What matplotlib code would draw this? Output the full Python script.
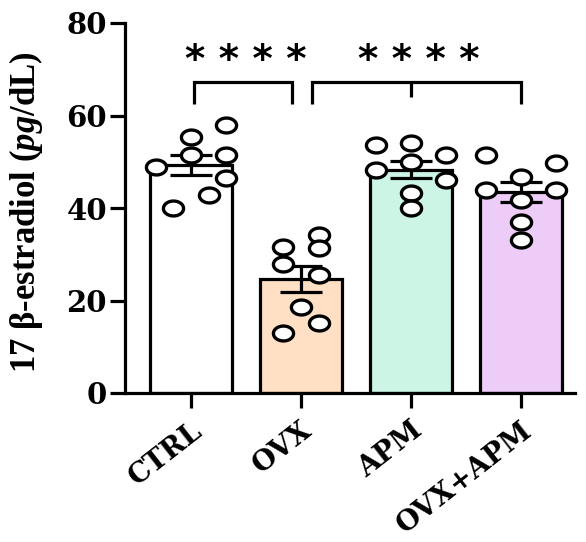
import numpy as np
import matplotlib
matplotlib.use('Agg')
import matplotlib.pyplot as plt
from matplotlib.path import Path
import matplotlib.transforms as mtransforms

# ---------------- data ----------------
groups = ['CTRL', 'OVX', 'APM', 'OVX+APM']
ctrl = [57.9, 55.4, 51.5, 51.5, 48.9, 46.4, 42.8, 39.9]
ovx = [34.2, 31.6, 31.3, 28.0, 25.5, 18.7, 15.1, 12.9]
apm = [54.0, 53.6, 51.5, 50.0, 48.2, 46.1, 43.2, 39.9]
ovx_apm = [51.5, 49.7, 46.8, 43.9, 43.9, 41.7, 37.0, 33.1]
yticks = [0, 20, 40, 60, 80]
stars = ['* * * *', '* * * *']

# scatter column (swarm slot) of each point
slots = [
    [2, 0, 0, 2, -2, 2, 1, -1],
    [1, -1, 1, -1, 1, 0, 1, -1],
    [0, -2, 2, 0, -2, 2, 0, 0],
    [-2, 2, 0, -2, 2, 0, 0, 0],
]

colors = ['#FFFFFF', '#FFE0C4', '#CCF5E6', '#EDCCF7']

# ---------------- style ----------------
plt.rcParams['font.family'] = ['Liberation Serif', 'DejaVu Serif']
plt.rcParams['font.weight'] = 'bold'
plt.rcParams['mathtext.fontset'] = 'custom'
plt.rcParams['mathtext.rm'] = 'Liberation Serif:bold'
plt.rcParams['mathtext.it'] = 'Liberation Serif:italic:bold'
plt.rcParams['mathtext.bf'] = 'Liberation Serif:bold'

LW = 2.3
TICKFONT = ['DejaVu Serif']

fig = plt.figure(figsize=(5.86, 5.42), dpi=100)
ax = fig.add_axes([125 / 586, 1 - 393 / 542, 450 / 586, 370 / 542])

data = [ctrl, ovx, apm, ovx_apm]
x = np.arange(len(groups))
means = np.array([np.mean(d) for d in data])
sems = np.array([np.std(d, ddof=1) / np.sqrt(len(d)) for d in data])

ax.bar(x, means, width=0.74, color=colors, edgecolor='black',
       linewidth=LW, zorder=2)
ax.errorbar(x, means, yerr=sems, fmt='none', ecolor='black',
            elinewidth=LW, capsize=15, capthick=LW, zorder=3)

# ellipse marker (points look slightly wider than tall)
t = np.linspace(0, 2 * np.pi, 60)
ell = Path(np.column_stack([np.cos(t) * 1.0, np.sin(t) * 0.74]), closed=True)
slot_w = 0.16
for i, d in enumerate(data):
    xs = x[i] + np.array(slots[i]) * slot_w
    ax.plot(xs, d, linestyle='none', marker=ell, markersize=14.5,
            markerfacecolor='white', markeredgecolor='black',
            markeredgewidth=2.4, zorder=4, clip_on=False)

# significance brackets
def bracket(x0, x1, y0, y1, mid=None):
    ax.plot([x0, x0, x1, x1], [y0, y1, y1, y0], color='black', lw=LW,
            solid_joinstyle='miter', solid_capstyle='butt', clip_on=False)
    if mid is not None:
        ax.plot([mid, mid], [y1, y1 - 3.2], color='black', lw=LW,
                solid_capstyle='butt', clip_on=False)

bracket(0.03, 0.92, 62.5, 67.2)
bracket(1.10, 3.00, 62.5, 67.2, mid=2.0)
for xc, s in zip([0.50, 2.07], stars):
    ax.text(xc, 69.4, s, ha='center', va='baseline', fontsize=28,
            family='DejaVu Sans', fontweight='bold')

# axes
ax.set_xlim(-0.6, 3.49)
ax.set_ylim(0, 80)
ax.set_yticks(yticks)
ax.set_yticklabels([str(v) for v in yticks], fontsize=21, fontweight='bold',
                   family=TICKFONT)
ax.set_xticks(x)
ax.set_xticklabels(groups, fontsize=20, fontweight='bold', rotation=38,
                   ha='right', va='top', rotation_mode='anchor',
                   family=TICKFONT)
offset = mtransforms.ScaledTranslation(10 / 100, 0, fig.dpi_scale_trans)
for lab in ax.get_xticklabels():
    lab.set_transform(lab.get_transform() + offset)

ax.tick_params(axis='both', width=LW, length=11, direction='out', color='black')
ax.tick_params(axis='y', pad=2)
ax.tick_params(axis='x', pad=6)
for s in ['top', 'right']:
    ax.spines[s].set_visible(False)
for s in ['left', 'bottom']:
    ax.spines[s].set_linewidth(LW)

ax.set_ylabel(r'17 β-estradiol ($\it{pg}$/dL)', fontsize=25, fontweight='bold')
ax.yaxis.set_label_coords(-0.178, 0.49)

fig.savefig('out.png', dpi=100, facecolor='white')
